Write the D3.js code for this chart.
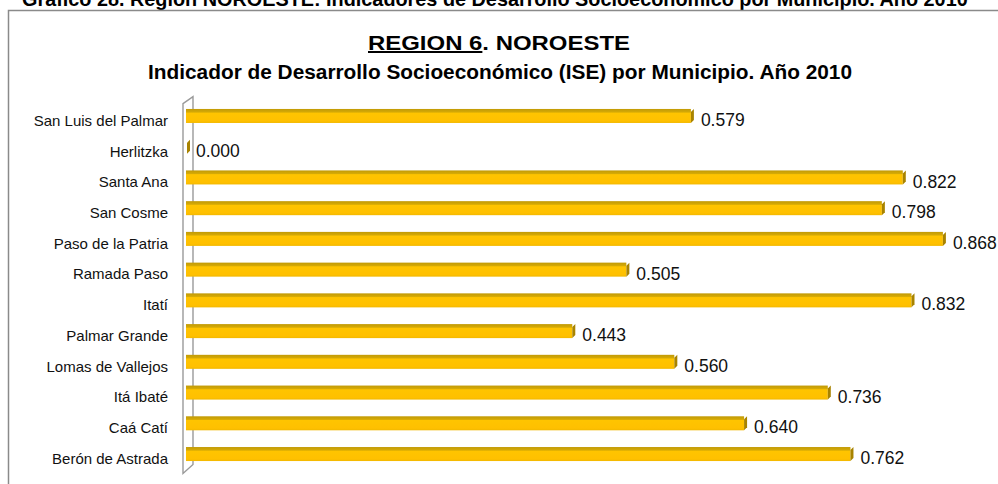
<!DOCTYPE html>
<html>
<head>
<meta charset="utf-8">
<script src="https://cdn.jsdelivr.net/npm/d3@7"></script>
<style>
  html, body { margin: 0; padding: 0; background: #fff; }
  svg { display: block; font-family: "Liberation Sans", Arial, sans-serif; }
</style>
</head>
<body>
<svg id="chart" width="998" height="484"></svg>
<script>
// Municipalities of the region, top to bottom
const municipios = [
  "San Luis del Palmar", "Herlitzka", "Santa Ana", "San Cosme",
  "Paso de la Patria", "Ramada Paso", "Itatí", "Palmar Grande",
  "Lomas de Vallejos", "Itá Ibaté", "Caá Catí", "Berón de Astrada"
];
// ISE value for each municipality
const ise = [0.579, 0.000, 0.822, 0.798, 0.868, 0.505, 0.832, 0.443, 0.560, 0.736, 0.640, 0.762];

const caption = "Gráfico 28. Región NOROESTE: Indicadores de Desarrollo Socioeconómico por Municipio. Año 2010";
const titleMain = "REGION 6";
const titleRest = ". NOROESTE";
const subtitle = "Indicador de Desarrollo Socioeconómico (ISE) por Municipio. Año 2010";

const data = municipios.map((m, i) => ({ name: m, value: ise[i] }));

const svg = d3.select("#chart");

// Shading for the pseudo-3D bars
const defs = svg.append("defs");
const grad = defs.append("linearGradient")
  .attr("id", "barFront").attr("x1", 0).attr("y1", 0).attr("x2", 0).attr("y2", 1);
grad.append("stop").attr("offset", "0%").attr("stop-color", "#c29a06");
grad.append("stop").attr("offset", "22%").attr("stop-color", "#d4a906");
grad.append("stop").attr("offset", "30%").attr("stop-color", "#ffc400");
grad.append("stop").attr("offset", "85%").attr("stop-color", "#ffc000");
grad.append("stop").attr("offset", "100%").attr("stop-color", "#f2b800");

// Fit a text element to a given width by adjusting its glyph spacing
function fitWidth(sel, width) {
  sel.attr("textLength", width).attr("lengthAdjust", "spacingAndGlyphs");
}

// Document caption (clipped by the top of the page)
const cap = svg.append("text")
  .attr("x", 22).attr("y", 6)
  .attr("font-weight", "bold").attr("font-size", 16)
  .attr("fill", "#000")
  .text(caption);
const capW = cap.node().getComputedTextLength();
cap.attr("font-size", 16 * 946 / capW);

// Chart frame
svg.append("rect")
  .attr("x", 8.5).attr("y", 10.5).attr("width", 1100).attr("height", 600)
  .attr("fill", "none").attr("stroke", "#8a8a8a").attr("stroke-width", 1.5);

// Title
const t1 = svg.append("text")
  .attr("x", 499).attr("y", 50)
  .attr("text-anchor", "middle")
  .attr("font-weight", "bold").attr("font-size", 20)
  .attr("fill", "#000");
t1.append("tspan").attr("text-decoration", "underline").text(titleMain);
t1.append("tspan").text(titleRest);
fitWidth(t1, 262);

const t2 = svg.append("text")
  .attr("x", 500).attr("y", 79)
  .attr("text-anchor", "middle")
  .attr("font-weight", "bold").attr("font-size", 20)
  .attr("fill", "#000")
  .text(subtitle);
fitWidth(t2, 704);

// Scales
const x = d3.scaleLinear().domain([0, 1]).range([186, 1058]);
const y = d3.scaleBand()
  .domain(municipios)
  .range([100.6, 469.4])
  .paddingInner(0.544)
  .paddingOuter(0.272);

const [y0, y1] = y.range();

// Side wall of the 3D category axis
svg.append("polygon")
  .attr("points", [
    [x(0) - 3, y0 + 3], [x(0) + 7, y0 - 4],
    [x(0) + 7, y1 - 5], [x(0) - 3, y1 + 4]
  ].map(p => p.join(",")).join(" "))
  .attr("fill", "#fff")
  .attr("stroke", "#9a9a9a").attr("stroke-width", 1.4);

// Category axis labels
const yAxis = d3.axisLeft(y).tickSize(0).tickPadding(0);
const gAxis = svg.append("g")
  .attr("transform", `translate(${x(0) - 18},5)`)
  .call(yAxis);
gAxis.attr("font-size", 15).attr("font-family", "'Liberation Sans', Arial, sans-serif");
gAxis.select(".domain").remove();
gAxis.selectAll("text")
  .style("font-size", "15px")
  .attr("fill", "#111");

// Bars
const bars = svg.append("g").selectAll("g").data(data).join("g");
const bh = y.bandwidth();

bars.filter(d => d.value > 0).append("rect")
  .attr("x", x(0))
  .attr("y", d => y(d.name))
  .attr("width", d => x(d.value) - x(0))
  .attr("height", bh)
  .attr("fill", "url(#barFront)");

// End cap of each bar
bars.append("path")
  .attr("d", d => {
    const xe = x(d.value) + (d.value > 0 ? 0 : 1);
    const yt = y(d.name);
    return `M${xe},${yt + 3} L${xe + 3},${yt} L${xe + 3},${yt + bh - 3} L${xe},${yt + bh} Z`;
  })
  .attr("fill", "#a88300");

// Value labels
bars.append("text")
  .attr("x", d => x(d.value) + 10)
  .attr("y", d => y(d.name) + bh / 2 + 4)
  .attr("dy", "0.35em")
  .attr("font-size", 17.5)
  .attr("fill", "#111")
  .text(d => d3.format(".3f")(d.value));
</script>
</body>
</html>
